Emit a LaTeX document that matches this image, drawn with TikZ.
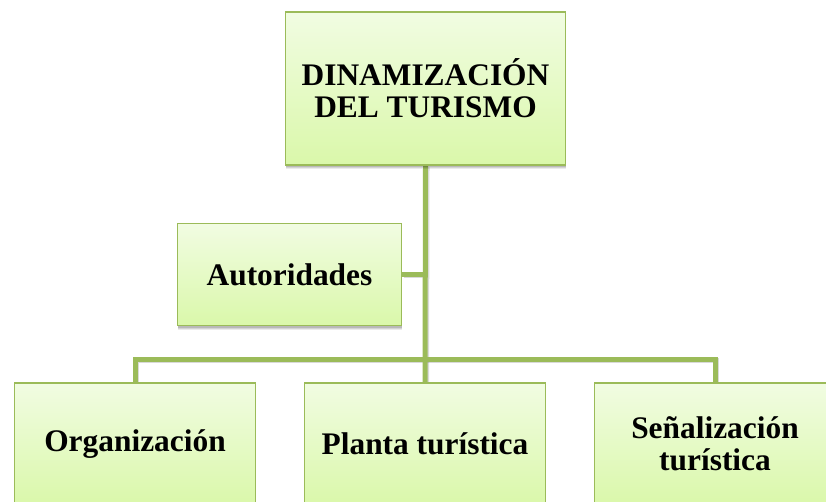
\documentclass[tikz,border=0pt]{standalone}
\usepackage{fontspec}
\setmainfont{Liberation Serif}
\usetikzlibrary{shadows,backgrounds}
\definecolor{olive}{HTML}{9BBB59}
\definecolor{filltop}{HTML}{F1FCE2}
\definecolor{fillbot}{HTML}{DAF8AA}
\tikzset{
  box/.style={draw=olive, line width=1.8pt, top color=filltop, bottom color=fillbot,
    align=center, inner sep=0pt,
    font=\fontsize{31.4}{32}\selectfont\bfseries,
    drop shadow={shadow xshift=0pt, shadow yshift=-4pt, opacity=0.08, fill=black},
    drop shadow={shadow xshift=0pt, shadow yshift=-3pt, opacity=0.10, fill=black},
    drop shadow={shadow xshift=0pt, shadow yshift=-2pt, opacity=0.12, fill=black}},
  link/.style={draw=olive, line width=5pt, line join=miter, line cap=butt},
  linkshadow/.style={draw=black, opacity=0.15, line width=5pt, line join=miter}
}
\begin{document}
\begin{tikzpicture}[x=1pt,y=-1pt]
\useasboundingbox (0,0) rectangle (826,502);
\clip (0,0) rectangle (826,502);
% nodes
\node[box, minimum width=280pt, minimum height=153pt] (top) at (425.5,88.5) {DINAMIZACIÓN\\DEL TURISMO};
\node[box, minimum width=224pt, minimum height=102pt] (auto) at (289.5,274.5) {Autoridades};
\node[box, minimum width=241pt, minimum height=122pt] (org) at (135,444) {Organización};
\node[box, minimum width=241pt, minimum height=122pt] (plan) at (425,444) {Planta turística};
\node[box, minimum width=241pt, minimum height=122pt] (sen) at (715,444) {Señalización\\turística};
\coordinate (j) at (425,359);
\begin{scope}[on background layer]
% connector shadows
\begin{scope}[transform canvas={xshift=1.5pt,yshift=-1.5pt}]
\draw[linkshadow] (top.south) -- (plan.north);
\draw[linkshadow] (org.north) |- (j) -| (sen.north);
\draw[linkshadow] (auto.east) -- (auto.east -| top.south);
\end{scope}
% connectors
\draw[link] (top.south) -- (plan.north);
\draw[link] (org.north) |- (j) -| (sen.north);
\draw[link] (auto.east) -- (auto.east -| top.south);
\end{scope}
\end{tikzpicture}
\end{document}
